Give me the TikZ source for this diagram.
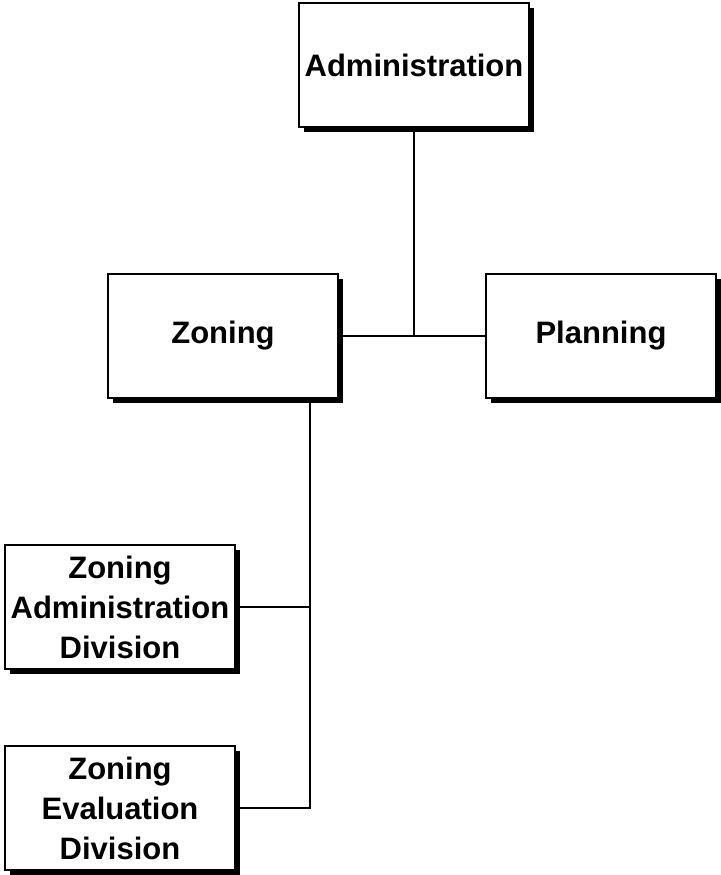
\documentclass[tikz,border=0pt]{standalone}
\usepackage{fontspec}
\setmainfont{Liberation Sans}
\usetikzlibrary{shadows}
\begin{document}
\begin{tikzpicture}[x=1pt, y=-1pt,
    unitbox/.style={draw, line width=1.4pt, fill=white, minimum width=230pt, minimum height=124pt,
        align=center, inner sep=0pt,
        font=\fontsize{31}{40}\selectfont\bfseries,
        drop shadow={shadow xshift=5pt, shadow yshift=-5pt, fill=black, opacity=1}},
    link/.style={line width=1.8pt}]
    \useasboundingbox (0,0) rectangle (720,875);

    \node[unitbox] (admin) at (414,65) {Administration};
    \node[unitbox] (zoning) at (223,336) {Zoning};
    \node[unitbox] (planning) at (601,336) {Planning};
    \node[unitbox] (zad) at (120,607) {Zoning\\Administration\\Division};
    \node[unitbox] (zed) at (120,808) {Zoning\\Evaluation\\Division};

    % top level
    \coordinate (hub) at (admin.south |- zoning.east);
    \draw[link] (admin.south) -- (hub);
    \draw[link] (zoning.east) -- (planning.west);

    % zoning divisions
    \coordinate (ztop) at ([xshift=87pt]zoning.south);
    \coordinate (zend) at (ztop |- zed.east);
    \draw[link] (ztop) -- (zend) -- (zed.east);
    \draw[link] (zad.east) -- (ztop |- zad.east);
\end{tikzpicture}
\end{document}
